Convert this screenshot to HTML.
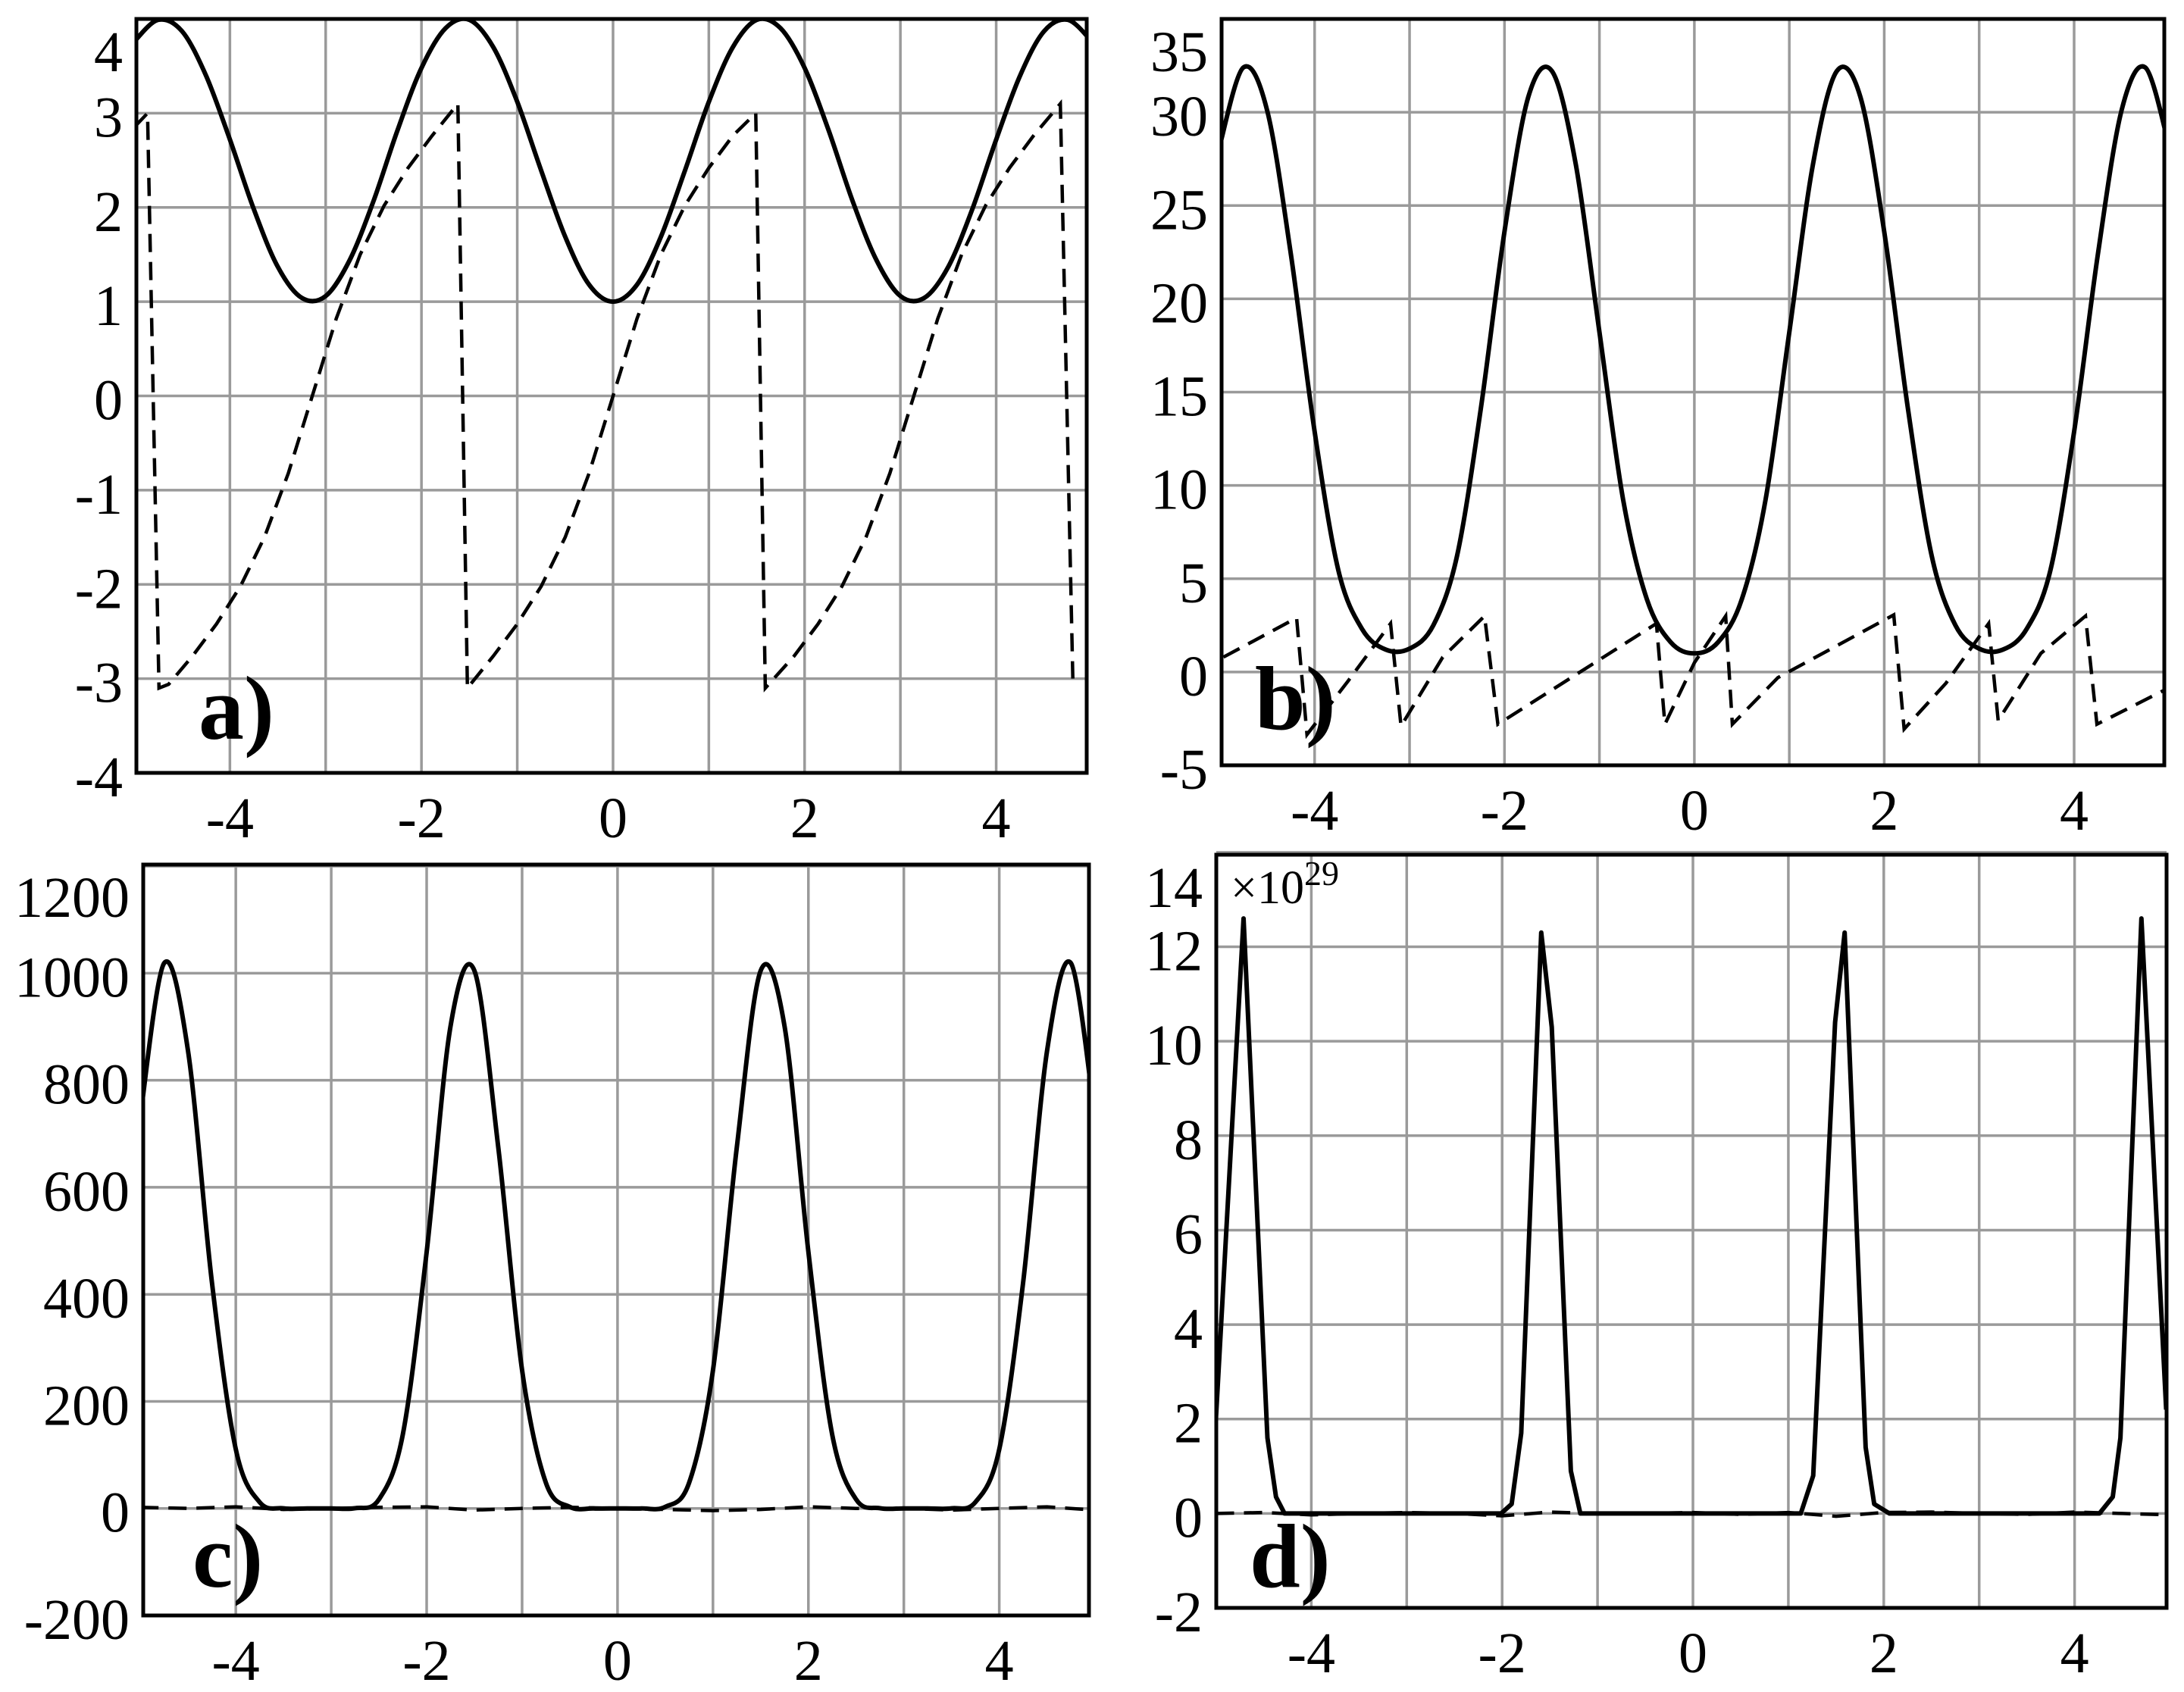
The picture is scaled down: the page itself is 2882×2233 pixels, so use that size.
<!DOCTYPE html>
<html><head><meta charset="utf-8">
<style>
html,body{margin:0;padding:0;background:#fff;}
svg{display:block;}
text{font-family:"Liberation Serif","DejaVu Serif",serif;fill:#000;}
</style></head>
<body>
<svg id="fig" width="2882" height="2233" viewBox="0 0 2882 2233" xmlns="http://www.w3.org/2000/svg"></svg>
<script>
// ---------- data ----------
const xsGrid = [-5,-4.75,-4.5,-4.25,-4,-3.75,-3.5,-3.25,-3,-2.75,-2.5,-2.25,-2,-1.75,-1.5,-1.25,-1,-0.75,-0.5,-0.25,0,0.25,0.5,0.75,1,1.25,1.5,1.75,2,2.25,2.5,2.75,3,3.25,3.5,3.75,4,4.25,4.5,4.75,5];
const aSolid = [3.76,3.99,3.87,3.40,2.72,1.98,1.37,1.04,1.06,1.44,2.07,2.82,3.48,3.90,3.99,3.70,3.12,2.39,1.69,1.18,1.00,1.18,1.69,2.39,3.12,3.70,3.99,3.90,3.48,2.82,2.07,1.44,1.06,1.04,1.37,1.98,2.72,3.40,3.87,3.99,3.76];
const aDashX = [-5,-4.86,-4.74,-4.64,-4.39,-4.14,-3.89,-3.64,-3.39,-3.14,-2.89,-2.64,-2.39,-2.14,-1.89,-1.62,-1.52,-1.25,-1,-0.75,-0.5,-0.25,0,0.25,0.5,0.75,1,1.25,1.49,1.59,1.89,2.14,2.39,2.64,2.89,3.14,3.39,3.64,3.89,4.14,4.39,4.67,4.80];
const aDashY = [2.85,3.0,-3.1,-3.06,-2.76,-2.42,-2.02,-1.50,-0.82,0,0.82,1.50,2.02,2.42,2.76,3.1,-3.1,-2.76,-2.42,-2.02,-1.50,-0.82,0,0.82,1.50,2.02,2.42,2.76,3.0,-3.1,-2.76,-2.42,-2.02,-1.50,-0.82,0,0.82,1.50,2.02,2.42,2.76,3.1,-3.0];
const bSolid = [28.2,32.4,30.1,22.37,12.88,5.45,2.3,1.2,1.25,2.5,6.22,14.09,23.6,30.8,32.2,27.23,18.22,9.23,3.9,1.6,1.0,1.6,3.9,9.23,18.22,27.23,32.2,30.8,23.6,14.09,6.22,2.5,1.25,1.2,2.3,5.45,12.88,22.37,30.1,32.4,28.2];
const bDashX = [-4.96,-4.19,-4.08,-3.65,-3.2,-3.09,-2.65,-2.21,-2.07,-0.40,-0.31,0.0,0.33,0.40,0.88,2.10,2.21,2.65,3.10,3.20,3.65,4.12,4.24,4.94];
const bDashY = [0.8,2.9,-3.35,-0.5,2.6,-2.9,0.8,3.0,-2.8,2.6,-2.8,0.5,3.0,-2.8,-0.3,3.06,-3.06,-0.6,2.6,-2.6,1.0,3.0,-2.8,-1.0];
const cSolid = [733,1019,854,422,110.3,11.7,0.2,0,0,0.5,16.9,137.8,478.8,900.7,1004.8,674.8,257.7,47.7,2.9,0,0,0,2.9,47.7,257.7,674.8,1004.8,900.7,478.8,137.8,16.9,0.5,0,0,0.2,11.7,110.3,422,854,1019,733];
const smallX = [-5,-4.5,-4,-3.5,-3,-2.5,-2,-1.5,-1,-0.5,0,0.5,1,1.5,2,2.5,3,3.5,4,4.5,5];
const cDash = [2,0,3,-2,0,2,3,-3,0,2,0,-2,-4,-2,3,0,0,-3,0,3,-3];
const dSolidX = [-5.0,-4.71,-4.46,-4.37,-4.28,-2.01,-1.90,-1.80,-1.59,-1.48,-1.28,-1.18,1.13,1.26,1.49,1.59,1.81,1.90,2.06,4.26,4.40,4.48,4.70,4.96];
const dSolidY = [2.0,12.6,1.6,0.35,0,0,0.2,1.7,12.3,10.3,0.9,0,0,0.8,10.4,12.3,1.4,0.2,0,0,0.35,1.6,12.6,2.2];
const dDash = [0,0.02,-0.03,0,0.02,0,-0.05,0.03,0,0,0.02,-0.02,0.02,-0.06,0.02,0.03,0,-0.02,0.03,0,-0.03];
const xTickLabels = [-4,-2,0,2,4];
const aYTicks = [-4,-3,-2,-1,0,1,2,3,4];
const bYTicks = [-5,0,5,10,15,20,25,30,35];
const cYTicks = [-200,0,200,400,600,800,1000,1200];
const dYTicks = [-2,0,2,4,6,8,10,12,14];

// ---------- rendering ----------
const NS = "http://www.w3.org/2000/svg";
const svg = document.getElementById('fig');
function mk(tag, attrs, parent){
  const e = document.createElementNS(NS, tag);
  for (const k in attrs) e.setAttribute(k, attrs[k]);
  (parent||svg).appendChild(e);
  return e;
}
function linePath(xs, ys, sx, sy){
  let d = '';
  for (let i=0;i<xs.length;i++) d += (i?'L':'M') + sx(xs[i]).toFixed(1) + ',' + sy(ys[i]).toFixed(1);
  return d;
}
function smoothPath(xs, ys, sx, sy){
  const P = xs.map((x,i)=>[sx(x), sy(ys[i])]);
  let d = 'M'+P[0][0].toFixed(1)+','+P[0][1].toFixed(1);
  for (let i=0;i<P.length-1;i++){
    const p0=P[Math.max(0,i-1)], p1=P[i], p2=P[i+1], p3=P[Math.min(P.length-1,i+2)];
    const c1=[p1[0]+(p2[0]-p0[0])/6, p1[1]+(p2[1]-p0[1])/6];
    const c2=[p2[0]-(p3[0]-p1[0])/6, p2[1]-(p3[1]-p1[1])/6];
    d += 'C'+c1[0].toFixed(1)+','+c1[1].toFixed(1)+' '+c2[0].toFixed(1)+','+c2[1].toFixed(1)+' '+p2[0].toFixed(1)+','+p2[1].toFixed(1);
  }
  return d;
}

function panel(cfg){
  const g = mk('g', {});
  
  
  const sx = v => cfg.L + (v - cfg.x0)/(cfg.x1 - cfg.x0)*(cfg.R - cfg.L);
  const sy = v => cfg.B - (v - cfg.y0)/(cfg.y1 - cfg.y0)*(cfg.B - cfg.T);
  const clipId = 'clip-' + cfg.id;
  const defs = mk('defs', {}, g);
  const cp = mk('clipPath', {id: clipId}, defs);
  mk('rect', {x: cfg.L, y: cfg.T, width: cfg.R-cfg.L, height: cfg.B-cfg.T}, cp);
  for (let v=-4; v<=4; v++){
    const gl = mk('line', {x1: sx(v), x2: sx(v), y1: cfg.T, y2: cfg.B, stroke:'#9a9a9a', 'stroke-width':3.5}, g);
    
    
  }
  cfg.yTicks.forEach(v=>{
    const gl = mk('line', {x1: cfg.L, x2: cfg.R, y1: sy(v), y2: sy(v), stroke:'#9a9a9a', 'stroke-width':3.5}, g);
    
    
    let yy = sy(v) + 6;
    if (sy(v) - cfg.T < 10) yy = cfg.T + 44;
    const t = mk('text', {x: cfg.L - 18, y: yy, 'font-size': 76, 'text-anchor':'end', 'dominant-baseline':'central'}, g);
    t.textContent = String(v);
    
    
  });
  xTickLabels.forEach(v=>{
    const t = mk('text', {x: sx(v), y: cfg.B + 60, 'font-size': 76, 'text-anchor':'middle', 'dominant-baseline':'central'}, g);
    t.textContent = String(v);
    
    
  });
  const plot = mk('g', {'clip-path': 'url(#'+clipId+')'}, g);
  const dp = mk('path', {d: linePath(cfg.dx, cfg.dy, sx, sy), fill:'none', stroke:'#000', 'stroke-width':4.5, 'stroke-dasharray':'24 13'}, plot);
  
  
  const sp = mk('path', {d: cfg.smooth ? smoothPath(cfg.sxs, cfg.sys, sx, sy) : linePath(cfg.sxs, cfg.sys, sx, sy), fill:'none', stroke:'#000', 'stroke-width':6, 'stroke-linejoin':'round'}, plot);
  
  
  const fr = mk('rect', {x: cfg.L, y: cfg.T, width: cfg.R-cfg.L, height: cfg.B-cfg.T, fill:'none', stroke:'#000', 'stroke-width':5}, g);
  
  
  const lt = mk('text', {x: cfg.lx, y: cfg.ly, 'font-size': 120, 'font-weight':'bold'}, g);
  lt.textContent = cfg.id + ')';
  
  
  return g;
}

panel({id:'a', L:180, R:1434, T:25, B:1020, x0:-4.976, x1:4.945, y0:-4, y1:4, yTicks:aYTicks,
  sxs:xsGrid, sys:aSolid, smooth:true, dx:aDashX, dy:aDashY, lx:262, ly:975});
panel({id:'b', L:1612, R:2856, T:25, B:1010, x0:-4.98, x1:4.95, y0:-5, y1:35, yTicks:bYTicks,
  sxs:xsGrid, sys:bSolid, smooth:true, dx:bDashX, dy:bDashY, lx:1656, ly:962});
panel({id:'c', L:189, R:1437, T:1141, B:2132, x0:-4.97, x1:4.94, y0:-200, y1:1203, yTicks:cYTicks,
  sxs:xsGrid, sys:cSolid, smooth:true, dx:smallX, dy:cDash, lx:254, ly:2094});
panel({id:'d', L:1605, R:2859, T:1128, B:2122, x0:-4.996, x1:4.964, y0:-2, y1:13.95, yTicks:dYTicks,
  sxs:dSolidX, sys:dSolidY, smooth:false, dx:smallX, dy:dDash, lx:1649, ly:2094});

const ex = mk('text', {x:1624, y:1192, 'font-size':62});


ex.textContent = '×10';
const sup = mk('tspan', {dy:-24, 'font-size':46}, ex);
sup.textContent = '29';
</script>
</body></html>
